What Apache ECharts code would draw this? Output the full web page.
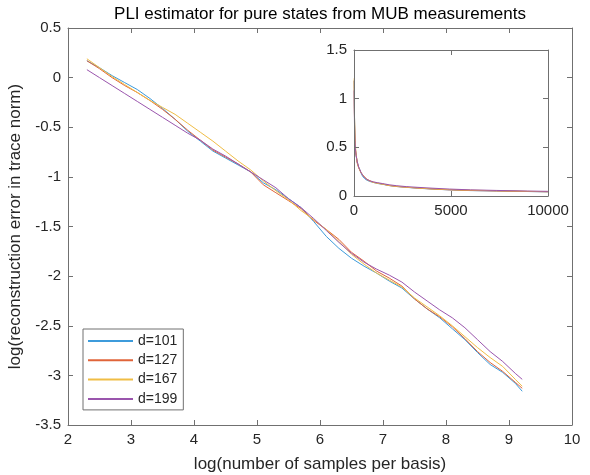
<!DOCTYPE html>
<html><head><meta charset="utf-8">
<script src="https://cdn.jsdelivr.net/npm/echarts@6/dist/echarts.min.js"></script>
<style>html,body{margin:0;padding:0;background:#fff}#c{width:590px;height:475px}</style>
</head><body><div id="c"></div>
<script>
// log(number of samples per basis)
const logSamples = [2.30,2.5,2.7,2.9,3.1,3.3,3.5,3.7,3.9,4.1,4.3,4.5,4.7,4.9,5.1,5.3,5.5,5.7,5.9,6.1,6.3,6.5,6.7,6.9,7.1,7.3,7.5,7.7,7.9,8.1,8.3,8.5,8.7,8.9,9.1,9.21];
// log(reconstruction error in trace norm)
const d101 = [0.17,0.10,0.02,-0.05,-0.12,-0.21,-0.31,-0.42,-0.54,-0.64,-0.74,-0.81,-0.88,-0.95,-1.06,-1.13,-1.22,-1.31,-1.45,-1.60,-1.72,-1.82,-1.90,-1.97,-2.05,-2.12,-2.23,-2.33,-2.42,-2.53,-2.64,-2.77,-2.89,-2.97,-3.08,-3.16];
const d127 = [0.17,0.09,0.00,-0.08,-0.15,-0.23,-0.32,-0.42,-0.53,-0.63,-0.73,-0.80,-0.87,-0.95,-1.08,-1.16,-1.24,-1.32,-1.44,-1.53,-1.63,-1.76,-1.85,-1.95,-2.02,-2.10,-2.23,-2.33,-2.41,-2.51,-2.63,-2.76,-2.87,-2.96,-3.07,-3.13];
const d167 = [0.19,0.10,0.01,-0.07,-0.15,-0.23,-0.30,-0.37,-0.46,-0.55,-0.64,-0.74,-0.84,-0.93,-1.04,-1.14,-1.23,-1.34,-1.43,-1.53,-1.65,-1.78,-1.88,-1.97,-2.04,-2.11,-2.22,-2.31,-2.40,-2.50,-2.61,-2.72,-2.82,-2.91,-3.04,-3.11];
const d199 = [0.08,0.00,-0.08,-0.16,-0.24,-0.32,-0.40,-0.48,-0.56,-0.63,-0.72,-0.79,-0.87,-0.95,-1.03,-1.11,-1.22,-1.31,-1.42,-1.54,-1.66,-1.77,-1.86,-1.93,-1.99,-2.06,-2.16,-2.25,-2.34,-2.42,-2.52,-2.64,-2.76,-2.86,-2.98,-3.04];
const seriesNames = ['d=101','d=127','d=167','d=199'];
const seriesData = [d101, d127, d167, d199];
const colors = ['#3d9bdb','#e0643a','#f0bd45','#9a55ad'];
const mainXTicks = [2,3,4,5,6,7,8,9,10];
const mainYTicks = [-3.5,-3,-2.5,-2,-1.5,-1,-0.5,0,0.5];
const insetXTicks = [0,5000,10000];
const insetYTicks = [0,0.5,1,1.5];

const FONT = 'Liberation Sans, Arial, sans-serif';
const axisColor = '#707070';
const textColor = '#262626';

function mkAxis(o) {
  return Object.assign({
    type: 'value',
    axisLine: {show: true, onZero: false, lineStyle: {color: axisColor, width: 1}},
    axisTick: {show: true, inside: true, length: 5, lineStyle: {color: axisColor}},
    splitLine: {show: false},
    axisLabel: {show: true, color: textColor, fontFamily: FONT, fontSize: 15, margin: 7,
      formatter: v => String(v)}
  }, o);
}

const chart = echarts.init(document.getElementById('c'), null, {renderer: 'canvas'});
const series = [];
seriesData.forEach((arr, i) => {
  series.push({
    name: seriesNames[i], type: 'line', xAxisIndex: 0, yAxisIndex: 0,
    data: logSamples.map((x, k) => [x, arr[k]]),
    symbol: 'none', lineStyle: {width: 1, color: colors[i]}, itemStyle: {color: colors[i]},
    animation: false, z: 2
  });
});
seriesData.forEach((arr, i) => {
  series.push({
    name: seriesNames[i], type: 'line', xAxisIndex: 2, yAxisIndex: 2,
    data: logSamples.map((x, k) => [Math.exp(x), Math.exp(arr[k])]),
    symbol: 'none', lineStyle: {width: 1, color: colors[i]}, itemStyle: {color: colors[i]},
    animation: false, z: 6
  });
});

chart.setOption({
  animation: false,
  backgroundColor: '#fff',
  textStyle: {fontFamily: FONT},
  graphic: [{
    type: 'text', x: 320, y: 14,
    style: {text: 'PLI estimator for pure states from MUB measurements', fontFamily: FONT, fontSize: 17,
      fill: '#000', textAlign: 'center', textVerticalAlign: 'middle'}
  }],
  legend: {
    orient: 'vertical', left: 83, top: 329,
    data: seriesNames,
    icon: 'rect',
    itemWidth: 45, itemHeight: 2, itemGap: 5.3,
    padding: [5, 6, 4, 5],
    backgroundColor: '#fff', borderColor: axisColor, borderWidth: 1,
    textStyle: {fontFamily: FONT, fontSize: 14, color: textColor},
    selectedMode: false
  },
  grid: [
    {left: 68, top: 28, width: 504, height: 397, containLabel: false, outerBoundsMode: 'none'},
    {left: 354, top: 50, width: 194, height: 146, containLabel: false, outerBoundsMode: 'none',
      show: true, backgroundColor: '#fff', borderWidth: 0, z: 3}
  ],
  xAxis: [
    mkAxis({gridIndex: 0, position: 'bottom', min: mainXTicks[0], max: mainXTicks[mainXTicks.length-1], interval: 1,
      name: 'log(number of samples per basis)', nameLocation: 'middle', nameGap: 31,
      nameTextStyle: {fontFamily: FONT, fontSize: 17, color: textColor}}),
    mkAxis({gridIndex: 0, position: 'top', min: 2, max: 10, interval: 1, axisLabel: {show: false}}),
    mkAxis({gridIndex: 1, position: 'bottom', min: insetXTicks[0], max: insetXTicks[insetXTicks.length-1], interval: 5000, z: 7}),
    mkAxis({gridIndex: 1, position: 'top', min: 0, max: 10000, interval: 5000, axisLabel: {show: false}, z: 7})
  ],
  yAxis: [
    mkAxis({gridIndex: 0, position: 'left', min: mainYTicks[0], max: mainYTicks[mainYTicks.length-1], interval: 0.5,
      name: 'log(reconstruction error in trace norm)', nameLocation: 'middle', nameGap: 39,
      nameTextStyle: {fontFamily: FONT, fontSize: 17, color: textColor}}),
    mkAxis({gridIndex: 0, position: 'right', min: -3.5, max: 0.5, interval: 0.5, axisLabel: {show: false}}),
    mkAxis({gridIndex: 1, position: 'left', min: insetYTicks[0], max: insetYTicks[insetYTicks.length-1], interval: 0.5, z: 7}),
    mkAxis({gridIndex: 1, position: 'right', min: 0, max: 1.5, interval: 0.5, axisLabel: {show: false}, z: 7})
  ],
  series: series
});
</script></body></html>
